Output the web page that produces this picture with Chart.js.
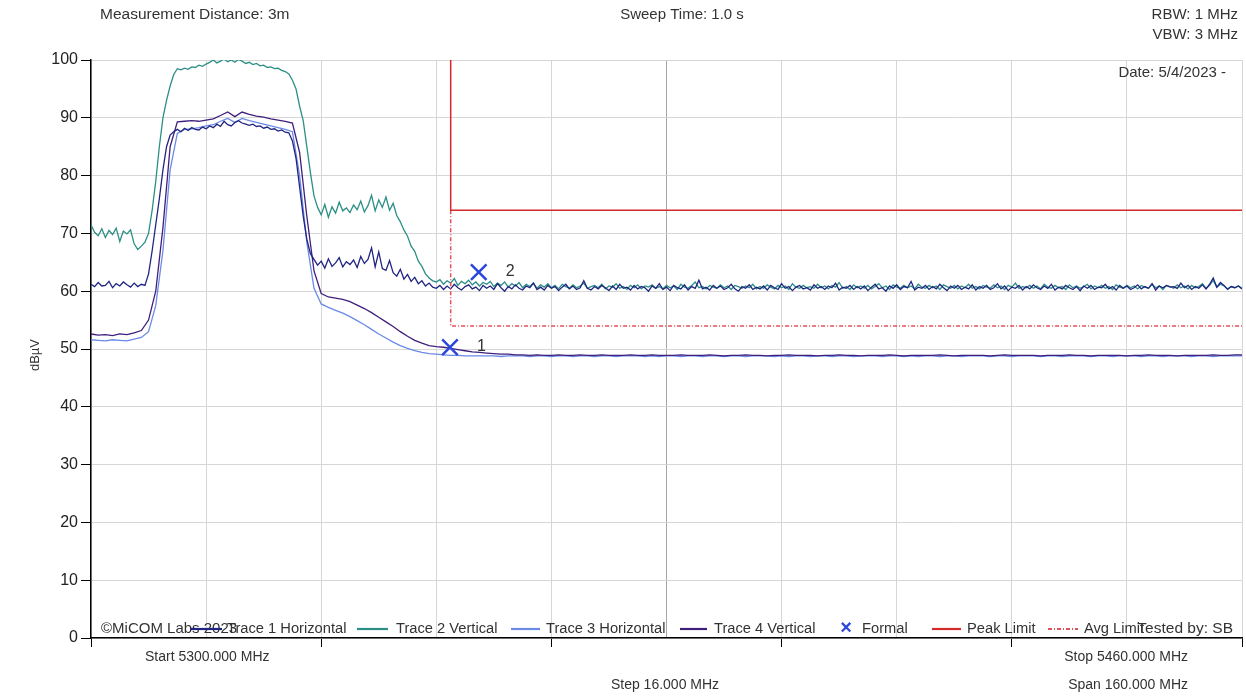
<!DOCTYPE html>
<html>
<head>
<meta charset="utf-8">
<script src="https://cdn.jsdelivr.net/npm/chart.js@4.4.1/dist/chart.umd.min.js"></script>
<style>
html,body{margin:0;padding:0;background:#fff;}
#wrap{position:relative;width:1246px;height:696px;}
</style>
</head>
<body>
<div id="wrap"><canvas id="c" width="1246" height="696"></canvas></div>
<script>
// ---- data ----
const FREQ_START = 5300, FREQ_STOP = 5460, FREQ_STEP_GRID = 16;
const FINE_STEP = 0.5, COARSE_STEP = 1;

// Trace 1 Horizontal (0.5 MHz spacing)
const trace1 = [
61.2,60.8,61.5,60.9,61.0,61.7,60.6,61.3,60.9,61.6,61.1,60.7,61.4,60.8,61.2,61.0,
63.0,67.0,71.5,76.0,81.0,85.0,87.0,87.6,
88.0,87.6,88.2,87.8,88.3,88.0,87.9,88.4,88.1,88.6,88.3,88.9,88.5,89.4,88.8,88.6,
89.2,89.5,89.1,88.9,88.7,88.9,88.5,88.6,88.2,88.4,88.0,88.1,87.7,87.9,87.5,87.4,
86.0,83.0,78.0,73.0,69.0,66.5,65.5,64.5,
65.2,64.0,65.6,64.3,64.9,65.8,64.2,65.1,64.6,65.4,64.1,66.0,64.8,65.5,67.5,64.2,66.8,63.9,
63.6,65.3,63.2,62.6,63.8,62.1,62.9,61.7,62.4,61.3,61.8,60.9,61.4,60.7,
60.5,61.0,60.3,60.9,60.4,61.2,60.6,60.2,60.8,61.1,60.4,60.7,60.1,61.0,60.5,
60.9,60.3,61.3,60.6,60.0,60.8,60.4,61.1,60.5,60.2,60.9,60.6,61.4,60.3,60.7,
60.2,61.0,60.5,60.8,60.1,60.7,61.2,60.4,60.9,60.3,60.6,61.8,60.5,60.2,60.8,
60.4,61.0,60.6,60.1,60.9,60.3,61.2,60.5,60.7,60.2,61.0,60.4,60.8,60.6,60.0,
60.9,60.5,61.3,60.3,60.7,60.1,61.0,60.6,60.4,61.1,60.2,60.8,60.5,61.9,60.4,
60.7,60.2,61.0,60.5,60.9,60.3,60.6,61.2,60.4,60.0,60.8,60.5,61.1,60.3,60.7,
60.4,60.9,60.2,61.0,60.6,60.3,61.3,60.5,60.8,60.1,60.7,61.0,60.4,60.6,60.2,
61.1,60.5,60.8,60.3,60.9,60.6,61.4,60.2,60.7,60.5,61.0,60.3,60.8,60.4,60.9,
60.1,60.7,61.2,60.4,60.6,60.0,60.9,60.5,61.1,60.3,60.8,60.6,61.7,60.2,60.7,
60.5,61.0,60.3,60.8,60.4,61.2,60.6,60.1,60.9,60.5,61.0,60.3,60.7,60.4,61.1,
60.2,60.8,60.5,61.0,60.3,60.6,61.3,60.4,60.9,60.1,60.7,60.5,61.0,60.2,60.8,
60.4,61.1,60.6,60.3,60.9,60.5,61.2,60.2,60.7,60.4,61.0,60.6,60.3,60.8,60.1,
60.9,60.5,61.0,60.3,60.7,60.6,61.2,60.4,60.8,60.2,61.0,60.5,60.9,60.3,60.6,
61.1,60.4,60.8,60.5,61.3,60.2,60.9,60.6,61.0,60.7,60.8,60.5,61.4,60.6,61.0,
60.3,60.8,60.5,61.1,60.4,61.2,62.3,60.7,61.5,61.0,60.3,60.8,60.6,60.9,60.4
];

// Trace 2 Vertical (0.5 MHz spacing)
const trace2 = [
71.5,70.2,69.6,70.8,69.3,70.5,69.8,70.9,68.6,70.4,69.9,70.6,68.2,67.2,67.8,68.5,
70.0,74.0,79.0,85.0,90.0,93.0,95.5,97.5,
98.5,98.3,98.6,98.4,98.8,98.7,99.1,98.9,99.3,99.6,100.0,99.5,99.8,100.2,99.7,100.0,
99.6,100.1,99.8,99.4,99.6,99.2,99.4,99.0,99.1,98.7,98.8,98.5,98.6,98.2,98.0,97.6,
96.5,95.0,92.0,89.5,85.0,80.5,76.5,74.5,
73.2,75.0,72.8,74.6,73.5,75.4,73.9,74.4,73.6,74.9,74.1,75.6,73.7,74.8,76.6,73.9,75.8,74.5,76.3,74.0,75.2,73.1,
72.0,70.6,69.5,67.8,66.9,65.2,64.3,63.0,62.3,61.8,
61.6,62.0,61.2,61.8,61.4,62.2,61.0,61.7,61.3,61.9,61.1,61.6,60.9,61.5,61.2,
61.7,60.8,61.4,61.0,61.6,60.7,61.3,60.9,61.5,60.6,61.2,60.8,61.4,60.5,61.1,
60.7,61.3,60.6,61.0,60.4,61.2,60.8,60.5,61.1,60.6,60.9,61.4,60.5,60.8,61.0,
60.6,61.2,60.4,60.9,60.7,61.3,60.5,60.8,60.3,61.0,60.6,61.1,60.4,60.9,60.7,
61.1,60.5,60.8,60.4,61.0,60.6,60.9,60.3,61.2,60.7,60.5,61.0,61.6,60.6,60.8,
60.4,61.0,60.7,60.5,61.1,60.6,60.9,60.3,61.0,60.8,60.5,60.9,60.6,61.2,60.4,
60.8,60.5,61.1,60.7,60.4,61.0,60.6,60.9,60.3,61.3,60.7,60.5,61.0,60.6,60.8,
60.5,61.2,60.6,60.9,60.4,61.0,60.7,61.5,60.5,60.8,60.3,61.1,60.6,60.9,60.5,
61.0,60.4,60.8,61.3,60.6,60.9,60.3,61.1,60.7,60.5,61.0,60.6,60.9,60.4,61.2,
60.7,60.5,61.0,60.6,60.9,60.3,61.1,60.8,60.5,61.0,60.4,60.9,60.6,61.2,60.5,
60.8,60.4,61.0,60.7,60.5,61.1,60.6,60.9,60.3,61.0,60.7,61.4,60.5,60.8,60.6,
61.0,60.5,60.9,60.4,61.2,60.7,60.5,61.0,60.6,60.8,60.3,61.1,60.6,60.9,60.5,
60.8,61.2,60.4,60.9,60.6,61.0,60.5,60.8,60.3,61.1,60.7,60.5,61.0,60.6,60.9,
60.4,61.0,60.7,60.5,61.2,60.6,60.9,60.3,61.0,60.8,60.5,61.1,60.6,60.9,60.4,
61.0,60.6,60.8,61.3,60.5,61.0,61.9,60.7,61.2,60.9,60.4,60.8,60.6,60.9,60.5
];

// Trace 3 Horizontal (1 MHz spacing)
const trace3 = [
51.6,51.5,51.4,51.6,51.5,51.4,51.7,52.0,
53.0,57.5,67.0,81.0,87.3,
88.0,88.1,88.3,88.6,88.8,89.4,89.9,89.2,89.9,89.5,89.2,88.9,88.6,88.3,88.0,87.6,
80.0,68.5,60.5,57.8,57.2,
56.7,56.2,55.6,54.9,54.2,53.4,52.6,51.9,51.2,50.6,50.1,49.7,49.4,49.2,49.1,49.0,
48.9,48.9,48.8,48.8,48.8,48.8,48.8,48.7,48.8,48.8,
48.8,48.7,48.8,48.8,48.7,48.8,48.8,48.7,48.8,48.8,
48.7,48.8,48.8,48.7,48.8,48.8,48.8,48.7,48.8,48.7,
48.8,48.8,48.7,48.8,48.8,48.7,48.8,48.8,48.7,48.8,
48.8,48.7,48.8,48.8,48.8,48.7,48.8,48.7,48.8,48.8,
48.7,48.8,48.8,48.7,48.8,48.8,48.7,48.8,48.8,48.8,
48.7,48.8,48.8,48.7,48.8,48.7,48.8,48.8,48.7,48.8,
48.8,48.7,48.8,48.8,48.8,48.7,48.8,48.8,48.7,48.8,
48.8,48.8,48.7,48.8,48.8,48.7,48.8,48.8,48.8,48.7,
48.8,48.8,48.7,48.8,48.8,48.8,48.7,48.8,48.8,48.7,
48.8,48.8,48.8,48.7,48.8,48.8,48.7,48.8,48.8,48.8,
48.8
];

// Trace 4 Vertical (1 MHz spacing)
const trace4 = [
52.6,52.4,52.5,52.3,52.6,52.5,52.8,53.2,
55.0,60.0,71.0,85.0,89.3,
89.4,89.5,89.4,89.6,89.8,90.4,91.0,90.2,91.0,90.6,90.3,90.1,89.8,89.6,89.4,89.1,
84.0,73.0,63.5,59.6,59.0,
58.8,58.6,58.2,57.6,57.0,56.3,55.5,54.7,53.9,53.0,52.2,51.5,51.0,50.6,50.4,50.3,
50.1,49.9,49.7,49.5,49.4,49.3,49.2,49.1,49.1,49.0,
49.0,48.9,49.0,48.9,48.9,49.0,48.9,48.9,49.0,48.9,
48.9,49.0,48.9,48.9,48.9,49.0,48.9,48.9,49.0,48.9,
48.9,48.9,49.0,48.9,48.9,48.9,49.0,48.9,48.8,48.9,
48.9,49.0,48.9,48.9,48.8,48.9,48.9,49.0,48.9,48.9,
48.9,48.8,48.9,48.9,49.0,48.9,48.9,48.8,48.9,48.9,
48.9,49.0,48.9,48.8,48.9,48.9,48.9,48.9,49.0,48.9,
48.8,48.9,48.9,48.9,48.9,48.8,48.9,49.0,48.9,48.9,
48.9,48.9,48.8,48.9,48.9,48.9,49.0,48.9,48.9,48.8,
48.9,48.9,48.9,48.9,48.8,48.9,48.9,49.0,48.9,48.9,
48.9,48.8,48.9,48.9,48.9,48.9,49.0,48.9,48.9,49.0,
49.0
];

// Markers
const markerFreq = [5349.9, 5353.9];
const markerLevel = [50.3, 63.3];
const markerLabels = ['1', '2'];

// Limits
const peakLimitFreq = [5350, 5350, 5460];
const peakLimitLevel = [100, 74, 74];
const avgLimitFreq = [5350, 5350, 5460];
const avgLimitLevel = [74, 54, 54];

// Axis ticks
const yTicks = [0,10,20,30,40,50,60,70,80,90,100];

// ---- build ----
const fineFreq = trace1.map((_, i) => FREQ_START + i * FINE_STEP);
const coarseFreq = trace3.map((_, i) => FREQ_START + i * COARSE_STEP);
const pts = (xs, ys) => ys.map((y, i) => ({x: xs[i], y}));

const C1 = '#1f2580', C2 = '#2b8f86', C3 = '#6a8ae6', C4 = '#3f1f7c';
const PEAK = '#d42a2a', AVG = '#e2505a', MARK = '#2a46dc';
const FONT = "'Liberation Sans', Arial, sans-serif";

Chart.defaults.font.family = FONT;

const overlay = {
  id: 'overlay',
  afterDraw(chart) {
    const ctx = chart.ctx;
    const xs = chart.scales.x, ys = chart.scales.y;
    ctx.save();
    ctx.fillStyle = '#333';
    ctx.textBaseline = 'middle';
    ctx.font = '15.5px ' + FONT;
    // header
    ctx.textAlign = 'left';
    ctx.fillText('Measurement Distance: 3m', 100, 15);
    ctx.textAlign = 'center';
    ctx.font = '15px ' + FONT;
    ctx.fillText('Sweep Time: 1.0 s', 682, 15);
    ctx.textAlign = 'right';
    ctx.fillText('RBW: 1 MHz', 1238, 15);
    ctx.fillText('VBW: 3 MHz', 1238, 35);
    ctx.fillText('Date: 5/4/2023 -', 1226, 73);
    // bottom info
    ctx.font = '14px ' + FONT;
    ctx.textAlign = 'left';
    ctx.fillText('Start 5300.000 MHz', 145, 657);
    ctx.textAlign = 'right';
    ctx.fillText('Stop 5460.000 MHz', 1188, 657);
    ctx.fillText('Span 160.000 MHz', 1188, 685);
    ctx.textAlign = 'center';
    ctx.fillText('Step 16.000 MHz', 665, 685);
    // y title
    ctx.save();
    ctx.translate(35, 355);
    ctx.rotate(-Math.PI / 2);
    ctx.font = '13px ' + FONT;
    ctx.fillText('dB\u00b5V', 0, 0);
    ctx.restore();
    // marker labels
    ctx.font = '16px ' + FONT;
    ctx.textAlign = 'left';
    markerFreq.forEach((f, i) => {
      ctx.fillText(markerLabels[i], xs.getPixelForValue(f) + 27, ys.getPixelForValue(markerLevel[i]) - 1);
    });
    // legend + copyright
    const ly = 629;
    ctx.font = '15px ' + FONT;
    ctx.fillText('\u00a9MiCOM Labs 2023', 101, ly);
    ctx.font = '14.7px ' + FONT;
    const items = [
      {c: C1, x1: 190, x2: 222, t: 'Trace 1 Horizontal', tx: 227},
      {c: C2, x1: 357, x2: 388, t: 'Trace 2 Vertical', tx: 396},
      {c: C3, x1: 511, x2: 540, t: 'Trace 3 Horizontal', tx: 546},
      {c: C4, x1: 680, x2: 707, t: 'Trace 4 Vertical', tx: 714},
      {c: PEAK, x1: 932, x2: 961, t: 'Peak Limit', tx: 967},
      {c: AVG, x1: 1048, x2: 1078, t: 'Avg Limit', tx: 1084, dash: [4,2,1,2]}
    ];
    items.forEach(it => {
      ctx.strokeStyle = it.c;
      ctx.lineWidth = 2.2;
      ctx.setLineDash(it.dash || []);
      ctx.beginPath();
      ctx.moveTo(it.x1, ly);
      ctx.lineTo(it.x2, ly);
      ctx.stroke();
      ctx.setLineDash([]);
      ctx.fillStyle = '#333';
      ctx.fillText(it.t, it.tx, ly);
    });
    ctx.fillStyle = MARK;
    ctx.font = 'bold 20px ' + FONT;
    ctx.textAlign = 'center';
    ctx.fillText('\u00d7', 846, ly - 1);
    ctx.fillStyle = '#333';
    ctx.font = '14.7px ' + FONT;
    ctx.textAlign = 'left';
    ctx.fillText('Formal', 862, ly);
    ctx.font = '15.5px ' + FONT;
    ctx.textAlign = 'right';
    ctx.fillText('Tested by: SB', 1233, ly);
    ctx.restore();
  }
};

new Chart(document.getElementById('c'), {
  type: 'line',
  data: {
    datasets: [
      {label: 'Formal', type: 'scatter', data: pts(markerFreq, markerLevel), pointStyle: 'crossRot', pointRadius: 11, borderColor: MARK, backgroundColor: MARK, borderWidth: 2.5, showLine: false},
      {label: 'Peak Limit', data: pts(peakLimitFreq, peakLimitLevel), borderColor: PEAK, borderWidth: 1.5, pointRadius: 0},
      {label: 'Avg Limit', data: pts(avgLimitFreq, avgLimitLevel), borderColor: AVG, borderWidth: 1.5, borderDash: [4,2,1,2], pointRadius: 0},
      {label: 'Trace 1 Horizontal', data: pts(fineFreq, trace1), borderColor: C1, borderWidth: 1.3, pointRadius: 0},
      {label: 'Trace 2 Vertical', data: pts(fineFreq, trace2), borderColor: C2, borderWidth: 1.3, pointRadius: 0},
      {label: 'Trace 4 Vertical', data: pts(coarseFreq, trace4), borderColor: C4, borderWidth: 1.3, pointRadius: 0},
      {label: 'Trace 3 Horizontal', data: pts(coarseFreq, trace3), borderColor: C3, borderWidth: 1.3, pointRadius: 0}
    ]
  },
  options: {
    responsive: false,
    animation: false,
    layout: {autoPadding: false, padding: {top: 60, right: 4, left: 0, bottom: 0}},
    plugins: {legend: {display: false}, tooltip: {enabled: false}},
    elements: {line: {tension: 0}},
    scales: {
      x: {
        type: 'linear', min: FREQ_START, max: FREQ_STOP,
        afterFit: s => { s.height = 58; },
        afterBuildTicks: s => { s.ticks = []; for (let v = FREQ_START; v <= FREQ_STOP; v += FREQ_STEP_GRID) s.ticks.push({value: v}); },
        ticks: {display: false, padding: 0},
        grid: {
          color: c => (c.tick && c.tick.value === 5380) ? '#a6a6a6' : '#d6d6d6',
          tickColor: c => (c.tick && (c.tick.value - FREQ_START) % 32 === 0) ? '#000' : 'rgba(0,0,0,0)',
          tickLength: 9, lineWidth: 1, drawTicks: true
        },
        border: {display: true, color: '#000', width: 1.5}
      },
      y: {
        min: 0, max: 100,
        afterFit: s => { s.width = 91; },
        afterBuildTicks: s => { s.ticks = yTicks.map(v => ({value: v})); },
        ticks: {font: {size: 16, family: FONT}, color: '#222', padding: 3},
        grid: {color: '#d6d6d6', tickColor: '#000', tickLength: 10},
        border: {display: true, color: '#000', width: 1.5}
      }
    }
  },
  plugins: [overlay]
});
</script>
</body>
</html>
